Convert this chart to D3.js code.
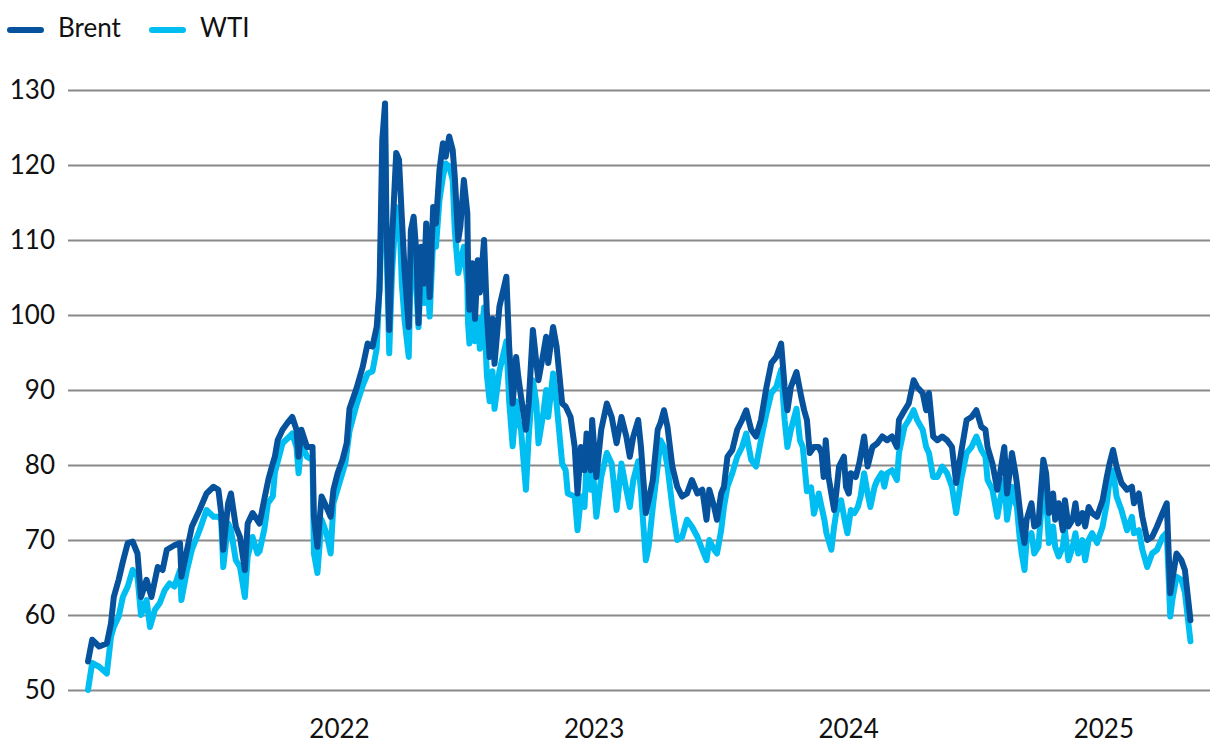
<!DOCTYPE html>
<html>
<head>
<meta charset="utf-8">
<script src="https://cdn.jsdelivr.net/npm/d3@7"></script>
<style>
  body { margin: 0; background: #fff; }
  svg text { font-family: Lato, "Open Sans", sans-serif; fill: #111; }
</style>
</head>
<body>
<svg id="chart" width="1220" height="756"></svg>
<script>
// oil prices, USD per barrel
const seriesNames = ['Brent', 'WTI'];
const seriesColors = ['#07529d', '#00bdf2'];

const yTicks = [50, 60, 70, 80, 90, 100, 110, 120, 130];
const xTickLabels = ['2022', '2023', '2024', '2025'];

const brentDates = [
  '2021-01-06','2021-01-12','2021-01-22','2021-02-02','2021-02-08','2021-02-12','2021-02-19','2021-02-25',
  '2021-03-04','2021-03-11','2021-03-18','2021-03-23','2021-03-31','2021-04-07','2021-04-16','2021-04-23',
  '2021-04-29','2021-05-10','2021-05-18','2021-05-20','2021-05-28','2021-06-04','2021-06-15','2021-06-25',
  '2021-07-05','2021-07-12','2021-07-16','2021-07-19','2021-07-26','2021-07-30','2021-08-06','2021-08-12',
  '2021-08-19','2021-08-23','2021-08-30','2021-09-09','2021-09-16','2021-09-22','2021-09-28','2021-10-01',
  '2021-10-05','2021-10-12','2021-10-19','2021-10-26','2021-11-01','2021-11-04','2021-11-08','2021-11-16',
  '2021-11-24','2021-11-26','2021-12-01','2021-12-07','2021-12-14','2021-12-20','2021-12-24','2021-12-30',
  '2022-01-06','2022-01-12','2022-01-16','2022-01-26','2022-02-04','2022-02-11','2022-02-18','2022-02-24',
  '2022-02-28','2022-03-02','2022-03-04','2022-03-08','2022-03-10','2022-03-14','2022-03-18','2022-03-24',
  '2022-03-28','2022-04-01','2022-04-05','2022-04-11','2022-04-14','2022-04-18','2022-04-22','2022-04-25',
  '2022-04-29','2022-05-03','2022-05-06','2022-05-11','2022-05-16','2022-05-20','2022-05-25','2022-05-30',
  '2022-06-03','2022-06-08','2022-06-13','2022-06-16','2022-06-21','2022-06-24','2022-06-29','2022-07-04',
  '2022-07-05','2022-07-07','2022-07-11','2022-07-15','2022-07-19','2022-07-22','2022-07-28','2022-08-01',
  '2022-08-05','2022-08-09','2022-08-12','2022-08-19','2022-08-29','2022-09-02','2022-09-07','2022-09-12',
  '2022-09-15','2022-09-19','2022-09-26','2022-09-30','2022-10-06','2022-10-11','2022-10-14','2022-10-21',
  '2022-10-25','2022-10-28','2022-11-04','2022-11-09','2022-11-17','2022-11-22','2022-11-29','2022-12-05',
  '2022-12-09','2022-12-14','2022-12-19','2022-12-22','2022-12-28','2022-12-30','2023-01-05','2023-01-12',
  '2023-01-20','2023-01-27','2023-02-03','2023-02-10','2023-02-17','2023-02-22','2023-02-27','2023-03-06',
  '2023-03-10','2023-03-17','2023-03-21','2023-03-27','2023-04-03','2023-04-07','2023-04-12','2023-04-17',
  '2023-04-24','2023-05-01','2023-05-08','2023-05-15','2023-05-22','2023-05-30','2023-06-06','2023-06-12',
  '2023-06-16','2023-06-23','2023-06-27','2023-07-03','2023-07-07','2023-07-12','2023-07-19','2023-07-26',
  '2023-08-02','2023-08-08','2023-08-15','2023-08-22','2023-08-29','2023-09-06','2023-09-13','2023-09-20',
  '2023-09-27','2023-10-02','2023-10-06','2023-10-11','2023-10-19','2023-10-26','2023-10-30','2023-11-03',
  '2023-11-07','2023-11-13','2023-11-20','2023-11-24','2023-11-27','2023-11-30','2023-12-04','2023-12-12',
  '2023-12-15','2023-12-19','2023-12-26','2023-12-29','2024-01-02','2024-01-05','2024-01-12','2024-01-17',
  '2024-01-24','2024-01-29','2024-02-05','2024-02-12','2024-02-19','2024-02-26','2024-03-04','2024-03-11',
  '2024-03-14','2024-03-22','2024-03-28','2024-04-04','2024-04-09','2024-04-17','2024-04-22','2024-04-26',
  '2024-05-02','2024-05-08','2024-05-15','2024-05-22','2024-05-29','2024-06-04','2024-06-11','2024-06-19',
  '2024-06-26','2024-07-03','2024-07-10','2024-07-16','2024-07-19','2024-07-26','2024-08-02','2024-08-06',
  '2024-08-12','2024-08-16','2024-08-23','2024-08-28','2024-08-30','2024-09-06','2024-09-10','2024-09-13',
  '2024-09-20','2024-09-24','2024-09-30','2024-10-07','2024-10-11','2024-10-15','2024-10-21','2024-10-24',
  '2024-10-29','2024-11-04','2024-11-07','2024-11-12','2024-11-18','2024-11-22','2024-11-26','2024-12-02',
  '2024-12-06','2024-12-11','2024-12-16','2024-12-23','2024-12-31','2025-01-06','2025-01-10','2025-01-15',
  '2025-01-20','2025-01-27','2025-02-04','2025-02-11','2025-02-14','2025-02-21','2025-02-26','2025-03-05',
  '2025-03-12','2025-03-19','2025-03-27','2025-04-02','2025-04-07','2025-04-10','2025-04-16','2025-04-23',
  '2025-04-28','2025-05-06'
];
const brentValues = [
  53.8, 56.7, 55.8, 56.2, 58.9, 62.4, 64.7, 67.1,
  69.6, 69.8, 68.2, 62.4, 64.7, 62.4, 66.4, 66,
  68.7, 69.3, 69.6, 65.1, 68.7, 71.8, 74, 76.2,
  77.1, 76.7, 73.6, 68.7, 74.9, 76.2, 71.8, 70.4,
  66, 72.2, 73.6, 72.2, 75.5, 78.2, 80.2, 81.1,
  83.3, 84.7, 85.6, 86.4, 84.7, 81.1, 84.7, 82.4,
  82.4, 73.1, 69.1, 75.8, 74.4, 73.1, 76.7, 78.9,
  80.7, 82.9, 87.5, 90.2, 93.1, 96.2, 95.8, 98.4,
  103.3, 113.1, 123.3, 128.2, 112.2, 98, 110, 121.6,
  120.7, 113.1, 106, 98.4, 111.3, 113.1, 108.2, 98.9,
  109.1, 104.2, 112.2, 102.4, 114.4, 112.2, 119.3, 122.9,
  121.1, 123.8, 122, 118.4, 110, 111.8, 118, 113.6,
  106.9, 100.7, 106.9, 99.5, 107.3, 103, 110, 100.2,
  94.4, 99.5, 93.5, 101.1, 105.1, 95.8, 88.2, 94.4,
  91.8, 89.1, 84.7, 88.2, 98, 93.6, 91.3, 94.9,
  97.1, 93.6, 98.4, 95.8, 88.2, 87.8, 86.4, 82.4,
  76.2, 82.4, 79.3, 84.2, 79.3, 86, 78.4, 84.7,
  88.2, 86.4, 82.9, 86.4, 83.8, 81.1, 83.8, 86,
  82.4, 73.6, 75.3, 78, 84.7, 85.6, 87.3, 85.1,
  79.8, 77.1, 75.8, 76.2, 78, 76.2, 76.7, 72.7,
  76.7, 74.4, 72.7, 76.2, 77.1, 81.1, 82, 84.7,
  86, 87.3, 84.7, 83.8, 86, 90.4, 93.6, 94.4,
  96.2, 90.4, 87.3, 90.4, 92.4, 89, 87.3, 86,
  81.6, 82.4, 82.4, 81.6, 78.4, 83.3, 78.4, 74,
  76.2, 79.8, 81.1, 77.1, 76.2, 78.9, 78.4, 80.2,
  83.8, 79.8, 82.4, 82.9, 83.8, 83.3, 83.8, 82.4,
  86, 87.3, 88.2, 91.3, 90.4, 89.6, 87.3, 89.6,
  83.8, 83.3, 83.8, 83.3, 82.4, 77.6, 81.6, 86,
  86.4, 87.3, 85.1, 84.7, 82.4, 80.2, 76.7, 78.9,
  82.4, 76.2, 81.6, 78.9, 77.6, 71.8, 69.6, 72.7,
  74.9, 71.8, 72.2, 80.7, 78.9, 73.6, 76.2, 72.7,
  74.9, 71.3, 75.3, 71.8, 72.7, 74.9, 72.2, 73.6,
  71.8, 74.4, 73.6, 73.1, 75.3, 78.4, 80.2, 82,
  79.8, 77.6, 76.7, 77.1, 74.9, 76.2, 73.1, 70,
  70.4, 71.8, 73.6, 74.9, 62.9, 64.7, 68.2, 67.3,
  66, 59.3
];

const wtiDates = [
  '2021-01-06','2021-01-12','2021-01-22','2021-02-02','2021-02-08','2021-02-12','2021-02-19','2021-02-25',
  '2021-03-04','2021-03-11','2021-03-18','2021-03-23','2021-03-31','2021-04-05','2021-04-12','2021-04-19',
  '2021-04-26','2021-05-03','2021-05-10','2021-05-18','2021-05-20','2021-05-28','2021-06-04','2021-06-15',
  '2021-06-25','2021-07-05','2021-07-12','2021-07-16','2021-07-19','2021-07-26','2021-07-30','2021-08-06',
  '2021-08-12','2021-08-19','2021-08-23','2021-08-30','2021-09-06','2021-09-09','2021-09-16','2021-09-21',
  '2021-09-28','2021-10-01','2021-10-12','2021-10-22','2021-10-26','2021-11-01','2021-11-04','2021-11-08',
  '2021-11-16','2021-11-24','2021-11-26','2021-12-01','2021-12-07','2021-12-14','2021-12-20','2021-12-24',
  '2021-12-31','2022-01-10','2022-01-16','2022-01-26','2022-02-04','2022-02-11','2022-02-18','2022-02-24',
  '2022-03-01','2022-03-04','2022-03-08','2022-03-10','2022-03-14','2022-03-18','2022-03-24','2022-03-29',
  '2022-04-01','2022-04-05','2022-04-11','2022-04-14','2022-04-18','2022-04-22','2022-04-25','2022-04-29',
  '2022-05-03','2022-05-06','2022-05-11','2022-05-16','2022-05-20','2022-05-25','2022-05-30','2022-06-03',
  '2022-06-08','2022-06-13','2022-06-16','2022-06-21','2022-06-24','2022-06-29','2022-07-04','2022-07-05',
  '2022-07-07','2022-07-11','2022-07-15','2022-07-19','2022-07-22','2022-07-28','2022-08-01','2022-08-05',
  '2022-08-09','2022-08-12','2022-08-19','2022-08-29','2022-09-02','2022-09-07','2022-09-12','2022-09-15',
  '2022-09-19','2022-09-26','2022-09-30','2022-10-06','2022-10-11','2022-10-14','2022-10-21','2022-10-25',
  '2022-10-28','2022-11-04','2022-11-09','2022-11-17','2022-11-22','2022-11-25','2022-12-05','2022-12-09',
  '2022-12-14','2022-12-19','2022-12-22','2022-12-28','2022-12-30','2023-01-05','2023-01-12','2023-01-20',
  '2023-01-27','2023-02-03','2023-02-10','2023-02-17','2023-02-22','2023-02-27','2023-03-06','2023-03-10',
  '2023-03-17','2023-03-21','2023-03-27','2023-04-03','2023-04-07','2023-04-12','2023-04-17','2023-04-24',
  '2023-05-01','2023-05-08','2023-05-15','2023-05-22','2023-05-30','2023-06-06','2023-06-12','2023-06-16',
  '2023-06-23','2023-06-27','2023-07-03','2023-07-07','2023-07-12','2023-07-19','2023-07-26','2023-08-02',
  '2023-08-08','2023-08-15','2023-08-22','2023-08-29','2023-09-06','2023-09-13','2023-09-20','2023-09-27',
  '2023-10-02','2023-10-06','2023-10-11','2023-10-19','2023-10-24','2023-10-28','2023-10-30','2023-11-03',
  '2023-11-09','2023-11-13','2023-11-20','2023-11-24','2023-11-28','2023-12-01','2023-12-08','2023-12-12',
  '2023-12-15','2023-12-22','2023-12-27','2023-12-31','2024-01-05','2024-01-10','2024-01-15','2024-01-19',
  '2024-01-24','2024-01-29','2024-02-02','2024-02-08','2024-02-12','2024-02-18','2024-02-22','2024-02-26',
  '2024-03-04','2024-03-11','2024-03-14','2024-03-22','2024-03-28','2024-04-04','2024-04-09','2024-04-17',
  '2024-04-22','2024-04-26','2024-05-02','2024-05-08','2024-05-15','2024-05-22','2024-05-29','2024-06-04',
  '2024-06-11','2024-06-19','2024-06-26','2024-07-03','2024-07-10','2024-07-16','2024-07-19','2024-07-26',
  '2024-08-02','2024-08-06','2024-08-12','2024-08-16','2024-08-23','2024-08-28','2024-08-30','2024-09-03',
  '2024-09-06','2024-09-10','2024-09-13','2024-09-20','2024-09-24','2024-09-30','2024-10-07','2024-10-11',
  '2024-10-15','2024-10-21','2024-10-24','2024-10-29','2024-11-04','2024-11-07','2024-11-12','2024-11-18',
  '2024-11-22','2024-11-26','2024-12-02','2024-12-06','2024-12-11','2024-12-16','2024-12-23','2024-12-31',
  '2025-01-06','2025-01-10','2025-01-15','2025-01-20','2025-01-27','2025-02-04','2025-02-11','2025-02-14',
  '2025-02-21','2025-02-26','2025-03-05','2025-03-12','2025-03-19','2025-03-27','2025-04-02','2025-04-07',
  '2025-04-10','2025-04-16','2025-04-23','2025-04-28','2025-05-06'
];
const wtiValues = [
  50, 53.6, 53.1, 52.2, 57.1, 58.4, 59.8, 62.4,
  63.8, 66, 65.1, 60, 62, 58.4, 60.7, 61.6,
  63.3, 64.2, 63.8, 66, 62, 66, 68.7, 71.3,
  74, 73.1, 73.1, 72.7, 66.4, 72.2, 71.3, 67.3,
  66.4, 62.4, 67.8, 70.4, 68.2, 68.5, 71.5, 74.9,
  75.8, 79, 82.9, 83.8, 84.2, 82.4, 78.9, 82.9,
  81.1, 80.7, 68.2, 65.6, 72.7, 70.9, 68.2, 74.9,
  77.1, 80.2, 84.5, 88, 90.6, 92.2, 92.5, 95.5,
  105.6, 116.7, 123.3, 110, 94.9, 105.6, 114.4, 112.2,
  104.2, 99.3, 94.4, 106.9, 107.8, 103.3, 98.4, 106.9,
  101.6, 107.8, 99.8, 110, 109.1, 115.3, 118.4, 120.2,
  119.8, 118, 111.3, 105.6, 106.9, 109.1, 104.2, 98.9,
  96.2, 100.5, 96.5, 99.5, 95.5, 101, 92, 88.5,
  92.5, 87.5, 92.5, 96.5, 88.5, 82.5, 88.5, 86,
  84.7, 76.7, 83.8, 91.3, 88.2, 82.9, 86.9, 90,
  86.4, 92.2, 88.2, 80.2, 79.3, 76.2, 75.8, 71.3,
  75.8, 74.4, 80.2, 76.7, 80.7, 73.1, 78.4, 81.6,
  80.2, 74, 80.2, 76.7, 74.4, 78, 80.5, 76.5,
  67.3, 69.1, 74.4, 79.8, 83.3, 82.4, 79.8, 74.4,
  70, 70.4, 72.7, 71.8, 70.4, 68.7, 67.3, 70,
  68.7, 68.2, 71.3, 74.4, 77.1, 78.9, 81.1, 82.4,
  84.2, 80.7, 79.8, 83.3, 86.9, 89.6, 90.4, 92.7,
  86, 82.4, 84.7, 87.5, 83.3, 82.4, 80.5, 76.5,
  77, 73.5, 76.2, 74.4, 72.7, 70.9, 68.7, 71.8,
  73.6, 75.3, 72.7, 70.9, 74, 73.6, 74.4, 75.8,
  78.9, 76.2, 74.4, 77.1, 78, 78.9, 77.1, 78.9,
  79.3, 78, 81.6, 85.1, 86, 87.3, 86, 84.7,
  82.4, 81.6, 78.4, 78.4, 79.8, 78.9, 77.1, 73.6,
  78, 81.6, 82.4, 83.8, 82, 81.1, 78, 76.7,
  73.1, 75.3, 78, 72.7, 77.1, 74.9, 74.5, 70.4,
  68.2, 66, 70, 70.9, 68.2, 69.1, 77.6, 75.8,
  69.6, 71.8, 69.1, 67.8, 69.1, 71.3, 67.3, 69.1,
  70.9, 68.2, 70, 67.3, 70, 70.9, 69.6, 71.8,
  74.9, 78, 79.3, 75.8, 74, 71.3, 73.1, 70.9,
  71.3, 68.7, 66.4, 68.2, 68.7, 70.4, 71, 59.8,
  62, 65.1, 64.7, 63, 56.5
];

const parse = d3.utcParse('%Y-%m-%d');
const brent = brentDates.map((d, i) => ({ date: parse(d), value: brentValues[i] }));
const wti = wtiDates.map((d, i) => ({ date: parse(d), value: wtiValues[i] }));

const svg = d3.select('#chart');
const gridLeft = 68, gridRight = 1210;

const x = d3.scaleUtc()
  .domain([parse('2021-01-01'), parse('2025-01-01')])
  .range([84.5, 1103.3]);
const y = d3.scaleLinear()
  .domain([50, 130])
  .range([690, 90]);

// horizontal grid + left labels
const yAxis = svg.append('g')
  .attr('transform', `translate(${gridLeft},0)`)
  .call(d3.axisLeft(y).tickValues(yTicks).tickSize(-(gridRight - gridLeft)).tickPadding(13));
yAxis.select('.domain').remove();
yAxis.selectAll('.tick line').attr('stroke', '#898989').attr('stroke-width', 2);
yAxis.selectAll('.tick text')
  .attr('font-size', 26)
  .attr('fill', '#111');

// year labels along the bottom
const xAxis = svg.append('g')
  .attr('transform', 'translate(0,712)')
  .call(d3.axisBottom(x)
    .tickValues(xTickLabels.map(s => parse(s + '-01-01')))
    .tickFormat(d3.utcFormat('%Y'))
    .tickSize(0).tickPadding(8));
xAxis.select('.domain').remove();
xAxis.selectAll('.tick text').attr('font-size', 26).attr('fill', '#111');

const line = d3.line()
  .x(d => x(d.date))
  .y(d => y(d.value));

// WTI under Brent
[wti, brent].forEach((data, k) => {
  const idx = k === 0 ? 1 : 0;
  svg.append('path')
    .datum(data)
    .attr('fill', 'none')
    .attr('stroke', seriesColors[idx])
    .attr('stroke-width', 6)
    .attr('stroke-linejoin', 'round')
    .attr('stroke-linecap', 'round')
    .attr('d', line);
});

// legend
const legend = svg.append('g');
const legendX = [10, 152];
seriesNames.forEach((name, i) => {
  legend.append('line')
    .attr('x1', legendX[i]).attr('x2', legendX[i] + 31)
    .attr('y1', 30).attr('y2', 30)
    .attr('stroke', seriesColors[i])
    .attr('stroke-width', 6)
    .attr('stroke-linecap', 'round');
  legend.append('text')
    .attr('x', legendX[i] + 48)
    .attr('y', 37)
    .attr('font-size', 26)
    .text(name);
});
</script>
</body>
</html>
